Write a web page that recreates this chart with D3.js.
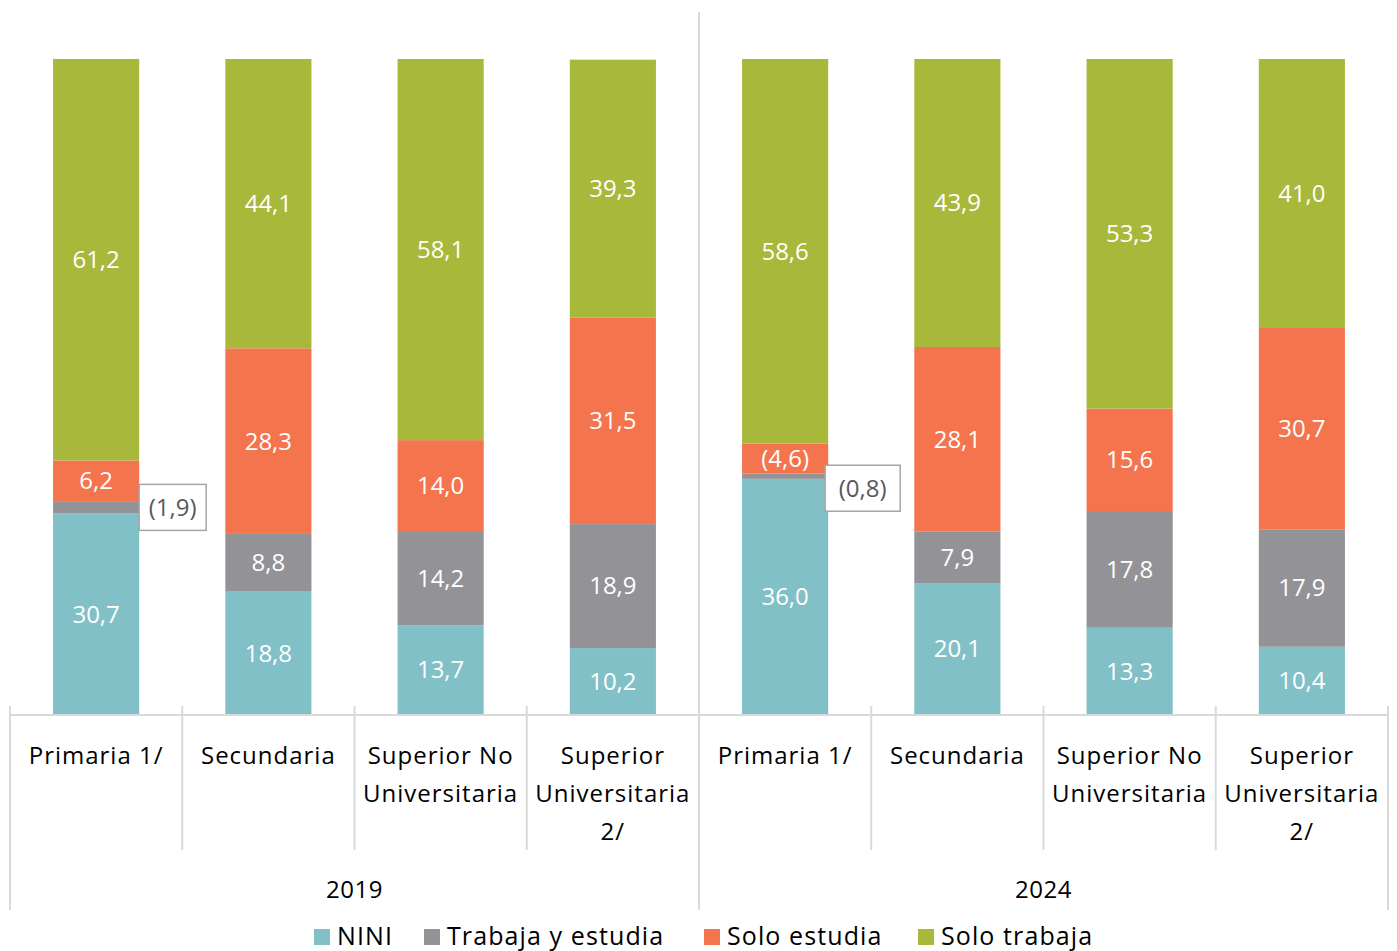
<!DOCTYPE html>
<html><head><meta charset="utf-8">
<script src="https://cdn.jsdelivr.net/npm/d3@7"></script>
<style>
html,body{margin:0;padding:0;background:#fff;}
svg{display:block;font-family:"Open Sans","Noto Sans",sans-serif;}
</style></head>
<body><svg id="c" width="1397" height="951"></svg>
<script>
const years = ["2019","2024"];
const levels = ["Primaria 1/","Secundaria","Superior No Universitaria","Superior Universitaria 2/"];
const levelLines = [["Primaria 1/"],["Secundaria"],["Superior No","Universitaria"],["Superior","Universitaria","2/"]];
const seriesNames = ["NINI","Trabaja y estudia","Solo estudia","Solo trabaja"];
const colors = ["#82C0C7","#939397","#F4744E","#A8B83B"];
// values per category (2019 x4, then 2024 x4)
const nini          = [30.7,18.8,13.7,10.2, 36.0,20.1,13.3,10.4];
const trabajaEstud  = [ 1.9, 8.8,14.2,18.9,  0.8, 7.9,17.8,17.9];
const soloEstudia   = [ 6.2,28.3,14.0,31.5,  4.6,28.1,15.6,30.7];
const soloTrabaja   = [61.2,44.1,58.1,39.3, 58.6,43.9,53.3,41.0];
const yTicks = [0,100];

const svg = d3.select("#c");
const left = 10, right = 1388, baseY = 715, topY = 59;
const cats = [];
years.forEach((yr,yi)=>levels.forEach((lv,li)=>cats.push({key:yr+"|"+lv, year:yr, level:lv, li, idx:yi*4+li})));
const x = d3.scaleBand().domain(cats.map(d=>d.key)).range([left,right]).paddingInner(0.5).paddingOuter(0.25);
const x0 = d3.scaleBand().domain(cats.map(d=>d.key)).range([left,right]);
const y = d3.scaleLinear().domain(yTicks).range([baseY,topY]);
const seriesVals = [nini,trabajaEstud,soloEstudia,soloTrabaja];
const rows = cats.map(c=>{const o={key:c.key}; seriesNames.forEach((s,i)=>o[s]=seriesVals[i][c.idx]); return o;});
const stack = d3.stack().keys(seriesNames)(rows);

const gBars = svg.append("g");
stack.forEach((layer,si)=>{
  gBars.selectAll(null).data(layer).enter().append("rect")
    .attr("x",d=>x(d.data.key)).attr("width",x.bandwidth())
    .attr("y",d=>y(d[1])).attr("height",d=>y(d[0])-y(d[1]))
    .attr("fill",colors[si]);
});
const fmt = v=>v.toFixed(1).replace(".",",");
// labels
stack.forEach((layer,si)=>{
  layer.forEach(d=>{
    const v = d[1]-d[0];
    const cx = x(d.data.key)+x.bandwidth()/2;
    const cy = (y(d[0])+y(d[1]))/2;
    if (v < 3) {
      const isSecond = d.data.key.startsWith("2024");
      const bcy = cy + (isSecond?12:0);
      const bx = x(d.data.key)+x.bandwidth() + (isSecond?-3:0);
      const w = isSecond?75:67, h = 46;
      svg.append("rect").attr("x",bx).attr("y",bcy-h/2).attr("width",w).attr("height",h)
        .attr("fill","#fff").attr("stroke","#A6A6A6").attr("stroke-width",1.5);
      svg.append("text").attr("x",bx+w/2).attr("y",bcy).attr("dy","0.35em")
        .attr("text-anchor","middle").attr("font-size",24).attr("fill","#595959").text("("+fmt(v)+")");
    } else {
      const t = v < 5 ? "("+fmt(v)+")" : fmt(v);
      svg.append("text").attr("x",cx).attr("y",cy).attr("dy","0.35em")
        .attr("text-anchor","middle").attr("font-size",24).attr("fill","#fff").text(t);
    }
  });
});
// axis lines
const axG = svg.append("g").attr("stroke","#D9D9D9").attr("stroke-width",2);
axG.append("line").attr("x1",left).attr("x2",right).attr("y1",baseY).attr("y2",baseY);
cats.forEach((c,i)=>{
  const bx = x0(c.key);
  const outer = (i===0||i===4);
  axG.append("line").attr("x1",bx).attr("x2",bx).attr("y1", i===4?12:706).attr("y2", outer?910:850);
});
axG.append("line").attr("x1",right).attr("x2",right).attr("y1",706).attr("y2",910);
// category labels
cats.forEach(c=>{
  const cx = x0(c.key)+x0.bandwidth()/2;
  const t = svg.append("text").attr("text-anchor","middle").attr("font-size",24).attr("fill","#000")
    .attr("letter-spacing","1px");
  levelLines[c.li].forEach((ln,k)=>t.append("tspan").attr("x",cx).attr("y",764+k*38).text(ln));
});
// year labels
years.forEach((yr,yi)=>{
  const a = x0(cats[yi*4].key), b = x0(cats[yi*4+3].key)+x0.bandwidth();
  svg.append("text").attr("x",(a+b)/2).attr("y",898).attr("text-anchor","middle").attr("font-size",24)
    .attr("letter-spacing","0.5px").attr("fill","#000").text(yr);
});
// legend
const legX = [314,424,704,918];
seriesNames.forEach((s,i)=>{
  svg.append("rect").attr("x",legX[i]).attr("y",929).attr("width",16).attr("height",16).attr("fill",colors[i]);
  svg.append("text").attr("x",legX[i]+23).attr("y",945).attr("font-size",25).attr("letter-spacing","1.1px")
    .attr("fill","#000").text(s);
});
</script></body></html>
